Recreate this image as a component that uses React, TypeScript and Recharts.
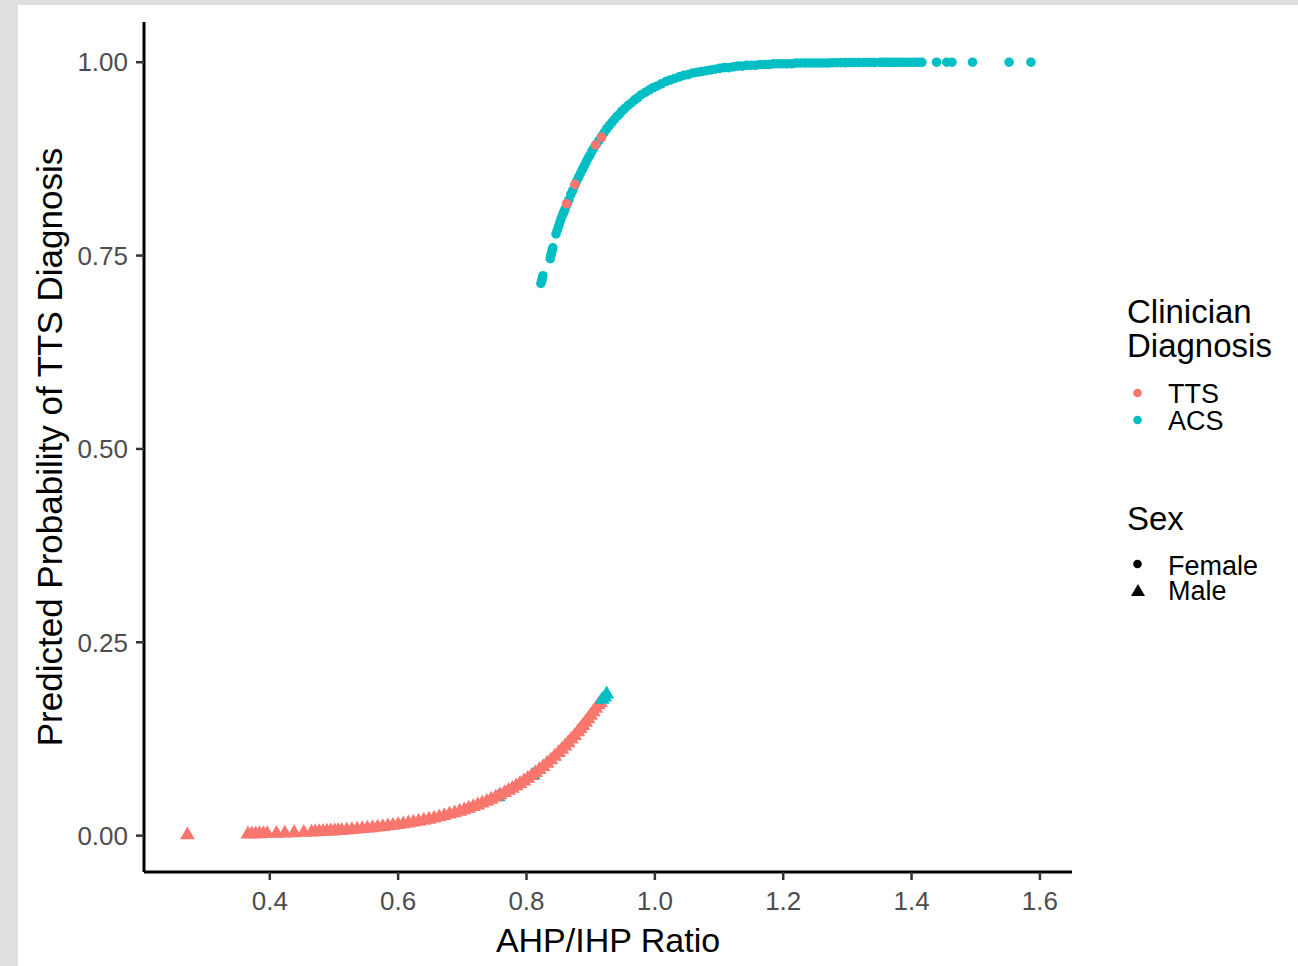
// Predicted probability of TTS vs AHP/IHP ratio, ggplot-style scatter
import React from 'react';
import { ScatterChart, Scatter, XAxis, YAxis, Label } from 'recharts';

// ggplot default hue palette for two levels
const TTS_COLOR = '#F8766D';
const ACS_COLOR = '#00BFC4';
const FONT = '"Liberation Sans", Arial, sans-serif';

const xTicks = [0.4, 0.6, 0.8, 1.0, 1.2, 1.4, 1.6];
const yTicks = [0, 0.25, 0.5, 0.75, 1.0];

// [AHP/IHP ratio, predicted probability]
// Female patients (circles), clinician diagnosis ACS
const acsFemale: [number, number][] = [
  [0.8225, 0.714], [0.8235, 0.717], [0.8245, 0.720], [0.8255, 0.724],
  [0.837, 0.746], [0.838, 0.750], [0.839, 0.753], [0.840, 0.757], [0.841, 0.760],
  [0.846, 0.778], [0.848, 0.783], [0.850, 0.788], [0.852, 0.793], [0.854, 0.798], [0.856, 0.802],
  [0.858, 0.806], [0.860, 0.810],
  [0.863, 0.816], [0.866, 0.822], [0.869, 0.829], [0.872, 0.834], [0.875, 0.840], [0.878, 0.846],
  [0.881, 0.851], [0.884, 0.856], [0.887, 0.861], [0.890, 0.866], [0.893, 0.871], [0.896, 0.876],
  [0.899, 0.880], [0.902, 0.885], [0.905, 0.889],
  [0.909, 0.894], [0.913, 0.899], [0.917, 0.904], [0.921, 0.909], [0.925, 0.914], [0.929, 0.918],
  [0.933, 0.922], [0.937, 0.926], [0.941, 0.930], [0.945, 0.933], [0.949, 0.937], [0.953, 0.940],
  [0.958, 0.944], [0.963, 0.947], [0.968, 0.951], [0.973, 0.954], [0.979, 0.958], [0.985, 0.961],
  [0.991, 0.964], [0.997, 0.967], [1.003, 0.969],
  [1.010, 0.972], [1.017, 0.975], [1.024, 0.977], [1.031, 0.979], [1.038, 0.981], [1.045, 0.983],
  [1.052, 0.984], [1.059, 0.986], [1.066, 0.987], [1.073, 0.988], [1.080, 0.989], [1.087, 0.990],
  [1.094, 0.991], [1.101, 0.992], [1.108, 0.993], [1.115, 0.993], [1.122, 0.994], [1.129, 0.995],
  [1.136, 0.995], [1.143, 0.996], [1.150, 0.996], [1.157, 0.996], [1.164, 0.997], [1.171, 0.997],
  [1.178, 0.997], [1.185, 0.998], [1.192, 0.998], [1.199, 0.998], [1.206, 0.998], [1.213, 0.998],
  [1.220, 0.999], [1.227, 0.999], [1.234, 0.999], [1.241, 0.999], [1.248, 0.999], [1.255, 0.999],
  [1.262, 0.999], [1.269, 0.999], [1.276, 0.9993], [1.283, 0.9994], [1.290, 0.9995], [1.297, 0.9995],
  [1.304, 0.9996], [1.311, 0.9996], [1.318, 0.9996], [1.325, 0.9997], [1.332, 0.9997], [1.338, 0.9997],
  [1.343, 0.9997],
  [1.351, 0.9998], [1.356, 0.9998], [1.362, 0.9998], [1.368, 0.9998], [1.374, 0.9998], [1.380, 0.9999],
  [1.386, 0.9999], [1.392, 0.9999], [1.398, 0.9999], [1.404, 0.9999], [1.410, 0.9999], [1.416, 0.9999],
  [1.439, 1.0], [1.455, 1.0], [1.463, 1.0], [1.495, 1.0], [1.552, 1.0], [1.586, 1.0],
];

// Female patients, clinician diagnosis TTS
const ttsFemale: [number, number][] = [
  [0.8625, 0.817], [0.8754, 0.842], [0.9077, 0.893], [0.917, 0.903],
];

// Male patients (triangles), clinician diagnosis TTS
const ttsMale: [number, number][] = [
  [0.2717, 0.0009],
  [0.366, 0.0020], [0.372, 0.0021], [0.378, 0.0022], [0.384, 0.0023], [0.390, 0.0024], [0.396, 0.0025],
  [0.4104, 0.0029], [0.4234, 0.0032], [0.4379, 0.0036], [0.453, 0.0041],
  [0.465, 0.0045], [0.471, 0.0048], [0.477, 0.0050], [0.483, 0.0053], [0.489, 0.0056], [0.495, 0.0059],
  [0.501, 0.0062], [0.5065, 0.0064],
  [0.512, 0.0068], [0.520, 0.0072], [0.528, 0.0077], [0.536, 0.0083], [0.544, 0.0089], [0.552, 0.0095],
  [0.560, 0.0101], [0.568, 0.0108], [0.576, 0.0116], [0.584, 0.0124], [0.592, 0.0132], [0.600, 0.0141],
  [0.608, 0.0151], [0.616, 0.0162], [0.624, 0.0173], [0.632, 0.0185], [0.640, 0.0198], [0.648, 0.0211],
  [0.656, 0.0226], [0.664, 0.0241], [0.672, 0.0258], [0.680, 0.0276], [0.688, 0.0294], [0.696, 0.0314],
  [0.703, 0.0333], [0.710, 0.0353], [0.717, 0.0373], [0.724, 0.0395], [0.731, 0.0418], [0.738, 0.0443],
  [0.745, 0.0469], [0.752, 0.0496], [0.759, 0.0525], [0.766, 0.0556], [0.772, 0.0583], [0.778, 0.0611],
  [0.784, 0.0642], [0.790, 0.0673], [0.796, 0.0705], [0.802, 0.0740], [0.808, 0.0776], [0.814, 0.0813],
  [0.820, 0.0852], [0.826, 0.0892], [0.832, 0.0935], [0.838, 0.0979], [0.844, 0.1025], [0.850, 0.1073],
  [0.855, 0.1114], [0.860, 0.1157], [0.865, 0.1200], [0.870, 0.1247], [0.875, 0.1293], [0.880, 0.1342],
  [0.884, 0.1382], [0.888, 0.1423], [0.892, 0.1465], [0.896, 0.1509], [0.900, 0.1553], [0.904, 0.1598],
  [0.908, 0.1644], [0.912, 0.1691], [0.915, 0.1720],
];

// Male patients, clinician diagnosis ACS (two drawn under the TTS band, three on top)
const acsMaleBehind: [number, number][] = [[0.756, 0.050], [0.8105, 0.078]];
const acsMaleFront: [number, number][] = [[0.918, 0.176], [0.922, 0.179], [0.925, 0.183]];

const toPoints = (rows: [number, number][]) => rows.map(([x, y]) => ({ x, y }));

// panel edges in page pixels
const PANEL = { left: 144, top: 22, right: 1072, bottom: 872 };
const WIDTH = 1298;
const HEIGHT = 966;
const Y_AXIS_W = 100;
const X_AXIS_H = 60;

const makeDot = (fill: string) => (props: any) => (
  <circle cx={props.cx} cy={props.cy} r={4.8} fill={fill} />
);

// R's pch 17: centroid on the point, apex two thirds above it
const makeTriangle = (fill: string) => (props: any) => {
  const { cx, cy } = props;
  return <polygon points={`${cx},${cy - 8.5} ${cx - 7.4},${cy + 4.3} ${cx + 7.4},${cy + 4.3}`} fill={fill} />;
};

const LegendBox = () => (
  <svg
    width={WIDTH}
    height={HEIGHT}
    style={{ position: 'absolute', left: 0, top: 0, pointerEvents: 'none', fontFamily: FONT }}
  >
    <text x={1127} y={323} fontSize={33} fill="#000">Clinician</text>
    <text x={1127} y={357} fontSize={33} fill="#000">Diagnosis</text>
    <circle cx={1137.5} cy={393} r={4.3} fill={TTS_COLOR} />
    <text x={1168} y={403} fontSize={27} fill="#000">TTS</text>
    <circle cx={1137.5} cy={420} r={4.3} fill={ACS_COLOR} />
    <text x={1168} y={430} fontSize={27} fill="#000">ACS</text>

    <text x={1127} y={530} fontSize={33} fill="#000">Sex</text>
    <circle cx={1137.5} cy={564} r={4.3} fill="#000" />
    <text x={1168} y={575} fontSize={27} fill="#000">Female</text>
    <polygon points="1138,584 1131,596 1145,596" fill="#000" />
    <text x={1168} y={600} fontSize={27} fill="#000">Male</text>
  </svg>
);

export default function App() {
  return (
    <div style={{ position: 'absolute', left: 0, top: 0, width: WIDTH, height: HEIGHT, background: '#DFDFE0', fontFamily: FONT }}>
      <div style={{ position: 'absolute', left: 18, top: 5, width: WIDTH - 18, height: HEIGHT - 5, background: '#FFFFFF' }} />
      <div style={{ position: 'absolute', left: 0, top: 0 }}>
        <ScatterChart
          width={WIDTH}
          height={HEIGHT}
          margin={{
            top: PANEL.top,
            right: WIDTH - PANEL.right,
            left: PANEL.left - Y_AXIS_W,
            bottom: HEIGHT - PANEL.bottom - X_AXIS_H,
          }}
        >
          <XAxis
            type="number"
            dataKey="x"
            domain={[0.204, 1.65]}
            ticks={xTicks}
            allowDataOverflow
            height={X_AXIS_H}
            tickFormatter={(v: number) => v.toFixed(1)}
            tick={{ fill: '#4D4D4D', fontSize: 26 }}
            tickSize={8}
            tickMargin={12}
            tickLine={{ stroke: '#333333', strokeWidth: 2.5 }}
            axisLine={{ stroke: '#000000', strokeWidth: 3 }}
          >
            <Label
              content={() => (
                <text x={(PANEL.left + PANEL.right) / 2} y={952} textAnchor="middle" fontSize={34} fill="#000">
                  AHP/IHP Ratio
                </text>
              )}
            />
          </XAxis>
          <YAxis
            type="number"
            dataKey="y"
            domain={[-0.047, 1.052]}
            ticks={yTicks}
            allowDataOverflow
            width={Y_AXIS_W}
            tickFormatter={(v: number) => v.toFixed(2)}
            tick={{ fill: '#4D4D4D', fontSize: 26 }}
            tickSize={8}
            tickMargin={8}
            tickLine={{ stroke: '#333333', strokeWidth: 2.5 }}
            axisLine={{ stroke: '#000000', strokeWidth: 3 }}
          >
            <Label
              content={() => (
                <text
                  x={62}
                  y={(PANEL.top + PANEL.bottom) / 2}
                  textAnchor="middle"
                  fontSize={35}
                  fill="#000"
                  transform={`rotate(-90, 62, ${(PANEL.top + PANEL.bottom) / 2})`}
                >
                  Predicted Probability of TTS Diagnosis
                </text>
              )}
            />
          </YAxis>
          <Scatter data={toPoints(acsMaleBehind)} shape={makeTriangle(ACS_COLOR)} isAnimationActive={false} />
          <Scatter data={toPoints(ttsMale)} shape={makeTriangle(TTS_COLOR)} isAnimationActive={false} />
          <Scatter data={toPoints(acsMaleFront)} shape={makeTriangle(ACS_COLOR)} isAnimationActive={false} />
          <Scatter data={toPoints(acsFemale)} shape={makeDot(ACS_COLOR)} isAnimationActive={false} />
          <Scatter data={toPoints(ttsFemale)} shape={makeDot(TTS_COLOR)} isAnimationActive={false} />
        </ScatterChart>
      </div>
      <LegendBox />
    </div>
  );
}
